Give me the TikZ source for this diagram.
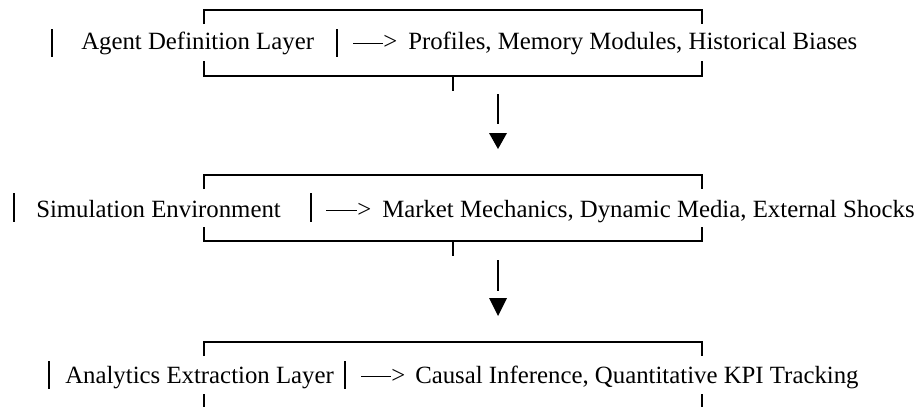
\documentclass[tikz,border=0pt]{standalone}
\usepackage{fontspec}
\setmainfont{Liberation Serif}
\begin{document}
\begin{tikzpicture}[x=0.75pt,y=-0.75pt,
  lbl/.style={anchor=base west,inner sep=0pt,font=\fontsize{18.6}{22}\selectfont},
  boxline/.style={line width=1.5pt},
  bar/.style={line width=1.8pt},
  dashl/.style={line width=1.2pt},
  flow/.style={line width=1.6pt},
  tri/.style={fill=black}]
\useasboundingbox (0,0) rectangle (922,407);

% ---------- Row 1 ----------
\draw[boxline] (204,24) -- (204,10) -- (702,10) -- (702,24);
\draw[boxline] (204,61) -- (204,76) -- (702,76) -- (702,61);
\coordinate (t1a) at (453,76); \coordinate (t1b) at (453,91);
\draw[boxline] (t1a) -- (t1b);
\coordinate (b1a) at (52,29); \coordinate (b1b) at (52,57);
\draw[bar] (b1a) -- (b1b);
\node[lbl] (l1) at (81,50) {Agent Definition Layer};
\coordinate (b2a) at (337,29); \coordinate (b2b) at (337,57);
\draw[bar] (b2a) -- (b2b);
\coordinate (d1) at (353,43.5);
\node[lbl] (g1) at (383,50) {>};
\draw[dashl] (d1) -- (g1.west |- d1);
\node[lbl] (r1) at (408,50) {Profiles, Memory Modules, Historical Biases};

% arrow 1
\coordinate (a1s) at (498,94); \coordinate (a1e) at (498,124);
\draw[flow] (a1s) -- (a1e);
\fill[tri] (489,133) -- (507,133) -- (498,149) -- cycle;

% ---------- Row 2 ----------
\draw[boxline] (204,189) -- (204,175) -- (702,175) -- (702,189);
\draw[boxline] (204,227) -- (204,241) -- (702,241) -- (702,227);
\coordinate (t2a) at (453,241); \coordinate (t2b) at (453,256);
\draw[boxline] (t2a) -- (t2b);
\coordinate (b3a) at (14,193); \coordinate (b3b) at (14,222);
\draw[bar] (b3a) -- (b3b);
\node[lbl] (l2) at (36,217) {Simulation Environment};
\coordinate (b4a) at (311,193); \coordinate (b4b) at (311,222);
\draw[bar] (b4a) -- (b4b);
\coordinate (d2) at (326,210.5);
\node[lbl] (g2) at (357,217) {>};
\draw[dashl] (d2) -- (g2.west |- d2);
\node[lbl] (r2) at (382,217) {Market Mechanics, Dynamic Media, External Shocks};

% arrow 2
\coordinate (a2s) at (498,260); \coordinate (a2e) at (498,291);
\draw[flow] (a2s) -- (a2e);
\fill[tri] (489,298) -- (507,298) -- (498,316) -- cycle;

% ---------- Row 3 ----------
\draw[boxline] (204,356) -- (204,342) -- (702,342) -- (702,356);
\draw[boxline] (204,394) -- (204,412);
\draw[boxline] (702,394) -- (702,412);
\coordinate (b5a) at (49,361); \coordinate (b5b) at (49,389);
\draw[bar] (b5a) -- (b5b);
\node[lbl] (l3) at (65,383) {Analytics Extraction Layer};
\coordinate (b6a) at (345,361); \coordinate (b6b) at (345,389);
\draw[bar] (b6a) -- (b6b);
\coordinate (d3) at (361,376.5);
\node[lbl] (g3) at (391,383) {>};
\draw[dashl] (d3) -- (g3.west |- d3);
\node[lbl] (r3) at (415,383) {Causal Inference, Quantitative KPI Tracking};
\end{tikzpicture}
\end{document}
